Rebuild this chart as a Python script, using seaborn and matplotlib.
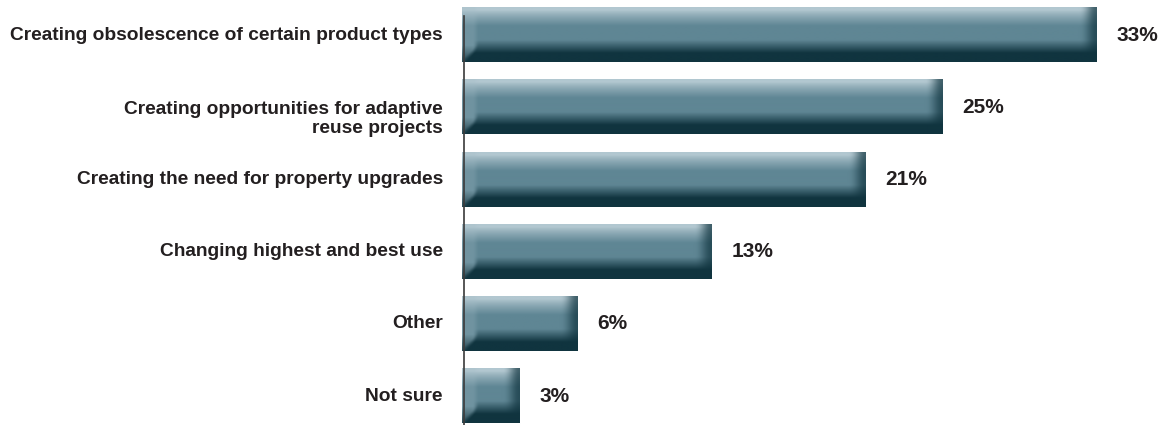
import numpy as np
import pandas as pd
import matplotlib
matplotlib.use("Agg")
import matplotlib.pyplot as plt
import matplotlib.colors as mcolors
import seaborn as sns

categories = [
    "Creating obsolescence of certain product types",
    "Creating opportunities for adaptive\nreuse projects",
    "Creating the need for property upgrades",
    "Changing highest and best use",
    "Other",
    "Not sure",
]
values = [33, 25, 21, 13, 6, 3]
value_labels = ["33%", "25%", "21%", "13%", "6%", "3%"]

df = pd.DataFrame({"category": categories, "value": values})

sns.set_theme(style="white")
plt.rcParams["font.family"] = ["Liberation Sans", "DejaVu Sans"]

W, H, DPI = 1174, 425, 100
fig = plt.figure(figsize=(W / DPI, H / DPI), dpi=DPI)
ax_left = 462 / W
ax_width = (1174 - 20 - 462) / W
ax = fig.add_axes([ax_left, 0.0, ax_width, 1.0])

mid = "#5f8593"
sns.barplot(data=df, y="category", x="value", orient="h", color=mid,
            width=0.75, saturation=1, ax=ax, zorder=2)

ax.set_xlim(0, 36)
ax.set_ylim(5.40, -0.485)

# shaded bevel fill for every bar
light = np.array(mcolors.to_rgb("#b2c7d0"))
midc = np.array(mcolors.to_rgb("#5f8694"))
dark = np.array(mcolors.to_rgb("#10343f"))
edge_light = np.array(mcolors.to_rgb("#a3bcc6"))


def vertical_profile(n, shift=0.0):
    v = np.linspace(0, 1, n)
    out = np.zeros((n, 3))
    for i, t in enumerate(v):
        if t < 0.05:
            c = light
        elif t < 0.34:
            s = ((t - 0.05) / 0.29) ** 0.8
            c = light * (1 - s) + midc * s
        elif t < 0.60 + shift:
            c = midc
        elif t < 0.84 + shift:
            s = (t - 0.60 - shift) / 0.24
            c = midc * (1 - s) + dark * s
        else:
            c = dark
        out[i] = c
    return out


def smoothstep(e0, e1, x):
    t = np.clip((x - e0) / (e1 - e0), 0, 1)
    return t * t * (3 - 2 * t)


fig.canvas.draw()
px_per_unit = ax.transData.transform((1, 0))[0] - ax.transData.transform((0, 0))[0]
bar_h_px = int(round(0.75 * (ax.transData.transform((0, 0))[1] - ax.transData.transform((0, 1))[1])))

base = vertical_profile(bar_h_px)
lifted = vertical_profile(bar_h_px, shift=0.10)

for patch in ax.patches:
    x0 = patch.get_x()
    w = patch.get_width()
    y0 = patch.get_y()
    h = patch.get_height()
    npx = max(int(round(w * px_per_unit)), 4)
    cols = np.arange(npx)[None, :].astype(float)
    rpx = np.arange(bar_h_px)[:, None].astype(float)
    img = np.repeat(base[:, None, :], npx, axis=1)

    # left bevel: lighter strip whose dark base is cut diagonally
    lw = min(15.0, npx * 0.3)
    left_s = 1 - smoothstep(lw - 5, lw + 2, cols)
    below = smoothstep(-4, 4, (bar_h_px - rpx) - cols)
    strip = np.repeat(lifted[:, None, :], npx, axis=1)
    strip = strip * (1 - 0.25) + edge_light * 0.25
    m = (left_s * below)[..., None]
    img = img * (1 - m) + strip * m

    # right bevel: darkening ramp, strongest at the outer edge
    rw = min(18.0, npx * 0.3)
    dist = npx - 1 - cols
    ramp = smoothstep(0, 1, np.clip(1 - dist / rw, 0, 1))
    a = (0.7 * ramp ** 1.2 * np.ones_like(rpx))[..., None]
    img = img * (1 - a) + dark * a

    ax.imshow(np.clip(img, 0, 1), extent=(x0, x0 + w, y0 + h, y0),
              aspect="auto", interpolation="bilinear", zorder=3)

ax.set_xlim(0, 36)
ax.set_ylim(5.40, -0.485)

# value labels
for patch, lab in zip(ax.patches, value_labels):
    ax.annotate(lab, (patch.get_x() + patch.get_width(), patch.get_y() + patch.get_height() / 2),
                xytext=(14.4, 0), textcoords="offset points", ha="left", va="center",
                fontsize=15, fontweight="bold", color="#231f20")

# category labels
ax.set_yticks([])
ax.set_ylabel("")
ax.set_xlabel("")
ax.set_xticks([])
for i, cat in enumerate(categories):
    dy = -8.6 if "\n" in cat else 0
    ax.annotate(cat, (0, i), xytext=(-13.7, dy), textcoords="offset points",
                ha="right", va="center", multialignment="right",
                fontsize=13.8, fontweight="bold", color="#231f20", linespacing=1.2,
                annotation_clip=False)

for s in ["top", "right", "bottom"]:
    ax.spines[s].set_visible(False)
ax.spines["left"].set_color("#3a3a3a")
ax.spines["left"].set_linewidth(1.2)
ax.spines["left"].set_position(("data", 0.1))
ax.spines["left"].set_bounds(5.40, -0.26)
ax.spines["left"].set_zorder(5)

fig.savefig("out.png", dpi=DPI)
